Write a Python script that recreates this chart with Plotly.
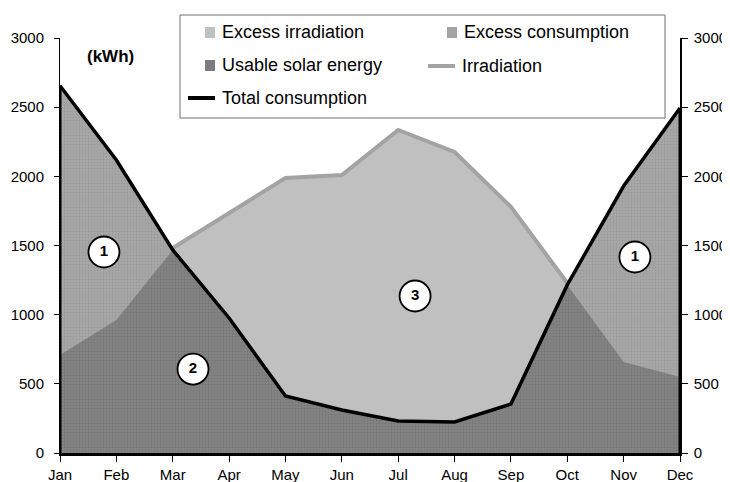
import numpy as np
import plotly.graph_objects as go

months = ['Jan', 'Feb', 'Mar', 'Apr', 'May', 'Jun', 'Jul', 'Aug', 'Sep', 'Oct', 'Nov', 'Dec']
consumption = [2655, 2118, 1468, 976, 412, 311, 231, 224, 354, 1215, 1930, 2494]
irradiation = [708, 962, 1482, 1735, 1988, 2010, 2335, 2176, 1779, 1229, 658, 550]

# numbered region markers
marker_x = [0.78, 2.36, 6.30, 10.20]
marker_y = [1453, 607, 1135, 1417]
marker_txt = ['<b>1</b>', '<b>2</b>', '<b>3</b>', '<b>1</b>']

x = list(range(len(months)))
usable = np.minimum(consumption, irradiation)

fig = go.Figure()

# excess irradiation (light)
fig.add_trace(go.Scatter(x=x, y=irradiation, mode='none', fill='tozeroy',
                         fillcolor='#c0c0c0', showlegend=False, hoverinfo='skip'))
# irradiation line
fig.add_trace(go.Scatter(x=x, y=irradiation, mode='lines',
                         line=dict(color='#a3a3a3', width=4), showlegend=False))
# excess consumption (medium, dithered)
fig.add_trace(go.Scatter(x=x, y=consumption, mode='none', fill='tozeroy',
                         fillcolor='#a6a6a6',
                         fillpattern=dict(shape='.', bgcolor='#a8a8a8', fgcolor='#8c8c8c',
                                          size=3, solidity=0.35),
                         showlegend=False, hoverinfo='skip'))
# usable solar energy (dark, dithered)
fig.add_trace(go.Scatter(x=x, y=usable, mode='none', fill='tozeroy',
                         fillcolor='#808080',
                         fillpattern=dict(shape='.', bgcolor='#838383', fgcolor='#6c6c6c',
                                          size=3, solidity=0.35),
                         showlegend=False, hoverinfo='skip'))
# total consumption
fig.add_trace(go.Scatter(x=x, y=consumption, mode='lines',
                         line=dict(color='black', width=3.5), showlegend=False))

# numbered circles
fig.add_trace(go.Scatter(x=marker_x, y=marker_y, mode='markers+text', text=marker_txt,
                         textposition='middle center',
                         textfont=dict(family='Arial, Liberation Sans', size=15, color='black'),
                         marker=dict(size=31, color='white', line=dict(color='black', width=1.8)),
                         showlegend=False, hoverinfo='skip'))

# thick outline at the ends of the consumption area
for i in (0, len(months) - 1):
    fig.add_shape(type='line', x0=x[i], x1=x[i], y0=0, y1=consumption[i],
                  line=dict(color='black', width=3), layer='above')

# manual legend (paper coords, from screen pixels)
def px(v):
    return (v - 60) / 620

def py(v):
    return (453 - v) / 415

fig.add_shape(type='rect', xref='paper', yref='paper', x0=px(180), x1=px(665),
              y0=py(118), y1=py(15), fillcolor='white', line=dict(color='#707070', width=1))

legend_items = [
    ('Excess irradiation', 'box', '#c0c0c0', 205, 32),
    ('Excess consumption', 'box', '#a4a4a4', 447, 32),
    ('Usable solar energy', 'box', '#7c7c7c', 205, 65),
    ('Irradiation', 'line', '#a3a3a3', 428, 66),
    ('Total consumption', 'line', 'black', 188, 98),
]
for label, kind, col, sx, sy in legend_items:
    if kind == 'box':
        fig.add_shape(type='rect', xref='paper', yref='paper', x0=px(sx), x1=px(sx + 10),
                      y0=py(sy + 6), y1=py(sy - 5), fillcolor=col, line=dict(width=0))
    else:
        fig.add_shape(type='line', xref='paper', yref='paper', x0=px(sx), x1=px(sx + 27),
                      y0=py(sy), y1=py(sy), line=dict(color=col, width=4))
    fig.add_annotation(x=px(sx + (15 if kind == 'box' else 32)), y=py(sy), xref='paper', yref='paper',
                       text=label, showarrow=False, xanchor='left', yanchor='middle',
                       font=dict(family='Arial, Liberation Sans', size=18, color='black'))

fig.add_annotation(x=px(110), y=py(56), xref='paper', yref='paper', text='<b>(kWh)</b>',
                   showarrow=False, xanchor='center', yanchor='middle',
                   font=dict(family='Arial, Liberation Sans', size=17, color='black'))

tick_font = dict(family='Arial, Liberation Sans', size=15, color='black')
yticks = [0, 500, 1000, 1500, 2000, 2500, 3000]

# page body has an 8px margin, so shrink the figure by 8 and pull margins in
fig.update_layout(
    width=722, height=474,
    margin=dict(l=52, r=50, t=30, b=29, autoexpand=False),
    paper_bgcolor='white', plot_bgcolor='white',
    font=dict(family='Arial, Liberation Sans'),
    xaxis=dict(range=[0, 11], tickvals=x, ticktext=months, showgrid=False, zeroline=False,
               showline=True, linecolor='black', linewidth=3, ticks='outside', ticklen=6,
               tickcolor='black', tickfont=tick_font, automargin=False),
    yaxis=dict(range=[0, 3000], tickvals=yticks, showgrid=False,
               zeroline=False, showline=True, linecolor='black', linewidth=1, ticks='outside',
               ticklen=5, tickcolor='black', tickfont=tick_font, automargin=False,
               ticklabelstandoff=7),
    yaxis2=dict(range=[0, 3000], tickvals=yticks, overlaying='y',
                side='right', showgrid=False, zeroline=False, showline=True, linecolor='black',
                linewidth=1.5, ticks='outside', ticklen=6, tickcolor='black', tickfont=tick_font,
                automargin=False, ticklabelstandoff=3),
)

# invisible trace to make right axis render
fig.add_trace(go.Scatter(x=[0], y=[0], yaxis='y2', mode='markers', marker=dict(opacity=0),
                         showlegend=False, hoverinfo='skip'))

fig.write_html('out.html')
